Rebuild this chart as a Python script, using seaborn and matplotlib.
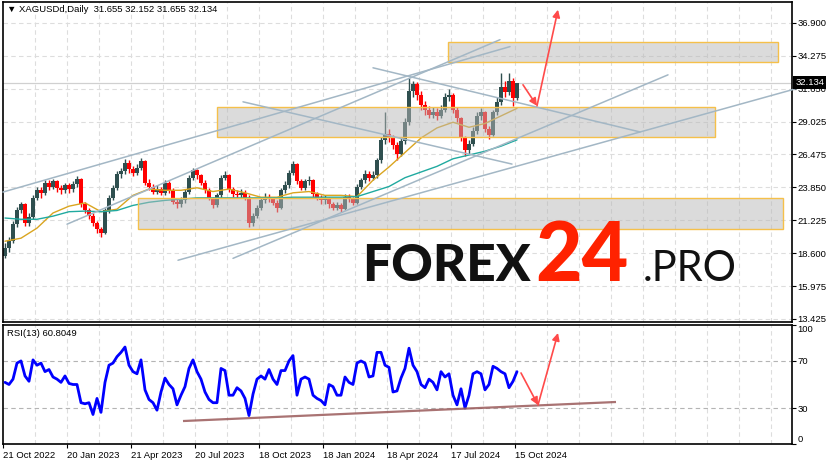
import numpy as np
import pandas as pd
import matplotlib
matplotlib.use('Agg')
import matplotlib.pyplot as plt
import matplotlib.transforms as mtransforms
from matplotlib.patches import Rectangle
from matplotlib.colors import to_rgba
import seaborn as sns

sns.set_theme(style='white')
plt.rcParams['font.family'] = ['Liberation Sans', 'DejaVu Sans']

# ---- values (one candle = 4 trading days) ----
first_open = 18.4
closes = [19.0, 19.6, 20.9, 22.0, 22.5, 21.0, 21.5, 23.0, 23.6, 23.4,
          24.2, 23.9, 24.3, 23.8, 23.6, 24.0, 23.7, 24.1, 24.5, 22.5,
          22.0, 21.6, 21.0, 20.5, 20.2, 22.0, 23.0, 23.8, 24.9, 25.1,
          25.8, 25.3, 25.0, 25.4, 25.9, 24.2, 23.9, 23.5, 23.7, 23.4,
          24.2, 23.6, 22.7, 22.5, 22.8, 23.5, 24.6, 25.2, 24.8, 24.2,
          23.6, 23.0, 22.4, 23.2, 24.6, 24.8, 23.7, 23.3, 23.2, 23.4,
          23.0, 21.0, 21.6, 22.2, 22.8, 23.1, 23.0, 22.6, 22.2, 23.6,
          24.0, 25.0, 25.7, 24.3, 23.8, 24.3, 24.4, 23.3, 23.0, 22.8,
          22.9, 22.5, 22.2, 22.4, 22.1, 23.1, 22.9, 22.6, 23.9, 24.4,
          24.9, 24.6, 24.8, 26.0, 27.6, 28.1, 27.8, 27.2, 26.5, 27.5,
          29.0, 31.5, 32.0, 31.2, 30.4, 30.0, 29.6, 29.8, 29.5, 30.0,
          31.0, 31.2, 30.0, 29.3, 27.8, 26.8, 27.3, 28.3, 29.5, 29.8,
          28.5, 28.0, 29.8, 30.6, 31.8, 31.4, 32.3, 30.9, 32.134]
highs = [19.4, 19.9, 21.2, 22.3, 22.7, 22.6, 21.8, 23.2, 23.9, 23.9,
         24.4, 24.4, 24.5, 24.4, 24.0, 24.2, 24.2, 24.3, 24.7, 24.6,
         22.7, 22.2, 21.8, 21.2, 20.7, 22.2, 23.2, 24.0, 25.1, 25.4,
         26.1, 26.0, 25.5, 25.7, 26.2, 26.0, 24.5, 24.1, 24.0, 23.9,
         24.4, 24.3, 23.8, 23.0, 23.1, 23.7, 24.8, 25.4, 25.3, 24.9,
         24.4, 23.8, 23.1, 23.4, 24.8, 25.1, 24.9, 23.9, 23.6, 23.7,
         23.6, 23.2, 21.8, 22.4, 23.0, 23.4, 23.3, 23.1, 22.8, 23.8,
         24.3, 25.2, 25.9, 25.8, 24.5, 24.5, 24.7, 24.5, 23.5, 23.2,
         23.2, 23.1, 22.7, 22.7, 22.6, 23.3, 23.3, 23.1, 24.1, 24.6,
         25.2, 25.1, 25.1, 26.2, 27.8, 29.8, 28.5, 28.0, 27.4, 27.8,
         29.3, 32.5, 32.3, 32.2, 31.5, 30.7, 30.3, 30.2, 30.1, 30.4,
         31.3, 31.6, 31.3, 30.2, 29.4, 27.9, 27.6, 28.6, 29.8, 30.1,
         29.9, 28.7, 30.0, 31.0, 32.9, 32.3, 32.9, 32.5, 32.152]
lows = [18.2, 18.7, 19.4, 20.7, 21.8, 20.8, 20.8, 21.3, 22.8, 23.0,
        23.2, 23.6, 23.7, 23.5, 23.3, 23.4, 23.4, 23.5, 23.9, 22.3,
        21.8, 21.3, 20.8, 20.2, 19.9, 20.1, 21.8, 22.8, 23.6, 24.6,
        24.9, 25.0, 24.7, 24.8, 25.2, 24.0, 23.6, 23.3, 23.3, 23.2,
        23.2, 23.4, 22.5, 22.2, 22.3, 22.6, 23.3, 24.4, 24.5, 24.0,
        23.4, 22.8, 22.2, 22.3, 23.0, 24.4, 23.5, 23.1, 23.0, 23.0,
        22.8, 20.7, 20.8, 21.4, 22.0, 22.6, 22.7, 22.4, 21.9, 22.1,
        23.4, 23.8, 24.8, 24.1, 23.6, 23.6, 24.0, 23.1, 22.8, 22.5,
        22.5, 22.2, 22.0, 22.0, 21.9, 22.0, 22.7, 22.4, 22.5, 23.7,
        24.2, 24.3, 24.4, 24.6, 25.8, 27.3, 27.4, 26.9, 26.0, 26.3,
        27.3, 28.8, 31.0, 30.8, 30.0, 29.6, 29.3, 29.3, 29.2, 29.3,
        29.8, 30.7, 29.7, 29.0, 27.5, 26.3, 26.5, 27.1, 28.1, 29.2,
        28.2, 27.7, 27.9, 29.6, 30.4, 31.0, 31.2, 30.3, 30.8]
rsi = [51.8, 50.0, 54.5, 68.0, 69.8, 57.2, 52.7, 70.7, 66.2, 68.0,
       60.8, 62.6, 56.3, 54.5, 51.8, 57.2, 50.9, 50.0, 50.0, 34.7,
       33.8, 34.7, 24.8, 38.3, 26.6, 51.8, 66.2, 68.0, 73.4, 77.0,
       81.5, 66.2, 60.8, 59.0, 70.7, 45.5, 37.4, 34.7, 28.4, 43.7,
       55.4, 50.0, 46.4, 32.9, 41.0, 48.2, 63.5, 70.7, 60.8, 54.5,
       43.7, 37.4, 34.7, 34.7, 63.5, 61.7, 41.0, 41.0, 47.3, 44.6,
       38.3, 23.9, 41.9, 54.5, 57.2, 54.5, 62.6, 54.5, 50.0, 61.7,
       61.7, 69.8, 74.3, 41.0, 54.5, 56.3, 54.5, 41.0, 38.3, 36.5,
       32.9, 50.0, 48.2, 41.0, 41.0, 56.3, 51.8, 50.0, 68.0, 69.8,
       68.0, 56.3, 57.2, 77.0, 77.0, 66.2, 64.4, 43.7, 44.6, 55.4,
       63.5, 80.5, 66.2, 60.8, 50.0, 47.3, 54.5, 51.8, 45.5, 60.8,
       56.3, 59.0, 41.0, 32.9, 46.4, 30.2, 41.0, 59.0, 60.8, 59.0,
       45.5, 50.0, 65.3, 63.5, 60.8, 59.0, 47.3, 52.7, 60.8]
# moving averages, one value every 16 trading days
ma_fast = [19.56, 19.8, 20.6, 21.8, 22.34, 22.6, 21.9, 22.1, 23.2, 23.7,
           23.6, 23.6, 23.8, 23.5, 23.7, 23.4, 23.05, 23.05, 23.4, 23.5,
           23.2, 23.2, 23.1, 24.4, 25.45, 26.6, 27.75, 28.55, 29.0, 28.6,
           28.9, 29.5, 30.1]
ma_slow = [21.4, 21.3, 21.3, 21.55, 21.9, 21.95, 21.9, 22.0, 22.4, 22.65,
           22.8, 22.9, 23.0, 23.0, 23.0, 23.0, 23.0, 23.0, 23.05, 23.05,
           23.05, 23.05, 23.1, 23.5, 23.9, 24.6, 25.05, 25.5, 26.1, 26.4,
           26.7, 27.1, 27.6]
last_price = 32.134
price_ticks = [13.425, 15.975, 18.600, 21.225, 23.850, 26.475, 29.025, 31.650, 34.275, 36.900]
date_ticks = [-2, 62, 126, 190, 254, 318, 382, 446, 510]
date_labels = ['21 Oct 2022', '20 Jan 2023', '21 Apr 2023', '20 Jul 2023', '18 Oct 2023',
               '18 Jan 2024', '18 Apr 2024', '17 Jul 2024', '15 Oct 2024']
# analyst drawings: zones (day0, day1, low, high), lines (day0, p0, day1, p1)
zones = [(212, 710, 27.83, 30.21), (443, 773, 33.78, 35.37), (133, 778, 20.53, 22.99)]
trend_lines = [(-2, 23.46, 505, 35.0), (62, 20.91, 495, 35.55), (368, 33.32, 635, 28.23),
               (238, 30.62, 507, 25.68), (228, 18.2, 663, 32.76), (173, 18.05, 805, 31.97)]
price_arrows = [(518, 31.97, 532, 30.30), (532, 30.30, 553, 37.93)]
rsi_line = (178, 19.3, 611, 35.3)
rsi_arrows = [(516, 59.7, 533, 32.8), (533, 32.8, 553, 93.3)]

step = 4
df = pd.DataFrame({'day': np.arange(len(closes)) * step, 'close': closes,
                   'high': highs, 'low': lows, 'rsi': rsi})
df['open'] = [first_open] + closes[:-1]
ma = pd.DataFrame({'day': np.arange(len(ma_fast)) * 16, 'fast': ma_fast, 'slow': ma_slow})

W, H = 832, 465
fig = plt.figure(figsize=(W / 100, H / 100), dpi=100)
fig.patch.set_facecolor('white')
ax = fig.add_axes([3 / W, 1 - 322 / H, 789 / W, 320 / H])
ax2 = fig.add_axes([3 / W, 1 - 444 / H, 789 / W, 119 / H])

xlim = (-2, 787)
grid_days = np.arange(30, 787, 32)
for a in (ax, ax2):
    a.set_facecolor('white')
    a.set_xlim(*xlim)
    for s in a.spines.values():
        s.set_color('black')
        s.set_linewidth(1.2)
    a.vlines(grid_days, 0, 1, transform=a.get_xaxis_transform(), colors='#dddddd',
             linestyles=(0, (4, 3)), linewidth=0.8, zorder=0)
    a.yaxis.tick_right()
    a.tick_params(axis='y', which='both', direction='out', length=3, width=0.8, pad=1,
                  labelsize=6.8, colors='black', right=True, left=False)

# main panel
ax.set_ylim(13.15, 38.54)
ax.set_yticks(price_ticks)
ax.set_yticklabels([f'{t:.3f}' for t in price_ticks])
ax.set_xticks([])
for t in price_ticks:
    ax.axhline(t, color='#dddddd', linestyle=(0, (4, 3)), linewidth=0.8, zorder=0)
ax.axhline(last_price, color='#d0d0d0', linewidth=0.9, zorder=0.5)

fig.text(362 / W, 1 - 281 / H, 'FOREX', fontsize=37, fontweight='black',
         family=['Lato', 'DejaVu Sans'], color='#111111', va='baseline', zorder=1)
fig.text(535 / W, 1 - 281 / H, '24', fontsize=58, fontweight='black',
         family=['Lato', 'DejaVu Sans'], color='#ff2200', va='baseline', zorder=1)
fig.text(643 / W, 1 - 281 / H, '.PRO', fontsize=30, fontweight='normal',
         family=['Lato', 'DejaVu Sans'], color='#111111', va='baseline', zorder=1)

up = df['close'] >= df['open']
colors = np.where(up, '#2f4f4f', '#ff0000')
ax.vlines(df['day'], df['low'], df['high'], colors=colors, linewidth=1.0, zorder=2)
body_lo = np.minimum(df['open'], df['close'])
body_h = np.maximum(np.abs(df['close'] - df['open']), 0.08)
ax.bar(df['day'], body_h, bottom=body_lo, width=3.5, color=colors, linewidth=0, zorder=2)

sns.lineplot(data=ma, x='day', y='fast', ax=ax, color='#daa520', linewidth=1.0, zorder=3)
sns.lineplot(data=ma, x='day', y='slow', ax=ax, color='#20aaa0', linewidth=1.0, zorder=3)

for d0, d1, lo, hi in zones:
    ax.add_patch(Rectangle((d0, lo), d1 - d0, hi - lo, facecolor=to_rgba('#b8b8b8', 0.5),
                           edgecolor='#f5c04a', linewidth=1.0, zorder=4))
for d0, p0, d1, p1 in trend_lines:
    ax.plot([d0, d1], [p0, p1], color='#a3b7c5', linewidth=1.1, zorder=5, clip_on=False)
for d0, p0, d1, p1 in price_arrows:
    ax.annotate('', xy=(d1, p1), xytext=(d0, p0), zorder=6, annotation_clip=False,
                arrowprops=dict(arrowstyle='-|>', color='#ff4a4a', lw=1.2, mutation_scale=11,
                                shrinkA=0, shrinkB=0))
ax.set_xlabel('')
ax.set_ylabel('')

tr = mtransforms.blended_transform_factory(ax.transAxes, ax.transData)
ax.text(1.004, last_price, f'{last_price:.3f}', transform=tr, ha='left', va='center',
        fontsize=6.8, color='white', zorder=10, clip_on=False,
        bbox=dict(facecolor='black', edgecolor='none', pad=1.3))
ax.text(0.005, 0.975, '\u25bc XAGUSDd,Daily  31.655 32.152 31.655 32.134', transform=ax.transAxes,
        ha='left', va='center', fontsize=6.8, color='black', zorder=10)

# RSI panel
ax2.set_ylim(0, 100)
sns.lineplot(data=df, x='day', y='rsi', ax=ax2, color='#0000ff', linewidth=2.0, zorder=3)
for lvl in (30, 70):
    ax2.axhline(lvl, color='#b4b4b4', linestyle=(0, (4, 3)), linewidth=0.8, zorder=1)
ax2.plot([rsi_line[0], rsi_line[2]], [rsi_line[1], rsi_line[3]], color='#9a5a5a',
         linewidth=1.6, alpha=0.85, zorder=4, solid_capstyle='butt')
for d0, v0, d1, v1 in rsi_arrows:
    ax2.annotate('', xy=(d1, v1), xytext=(d0, v0), zorder=6, annotation_clip=False,
                 arrowprops=dict(arrowstyle='-|>', color='#ff4a4a', lw=1.2, mutation_scale=11,
                                 shrinkA=0, shrinkB=0))
ax2.set_yticks([0, 30, 70, 100])
ylabs = ax2.set_yticklabels(['0', '30', '70', '100'])
ylabs[0].set_va('bottom')
ylabs[3].set_va('top')
ax2.set_xticks(date_ticks)
xlabs = ax2.set_xticklabels(date_labels)
for lab in xlabs:
    lab.set_ha('left')
ax2.tick_params(axis='x', direction='out', length=3, width=0.8, pad=2, labelsize=6.8,
                colors='black', bottom=True)
ax2.set_xlabel('')
ax2.set_ylabel('')
ax2.text(0.005, 0.93, 'RSI(13) 60.8049', transform=ax2.transAxes, ha='left', va='center',
         fontsize=6.8, color='black', zorder=10)

fig.savefig('out.png', dpi=100, facecolor='white')
